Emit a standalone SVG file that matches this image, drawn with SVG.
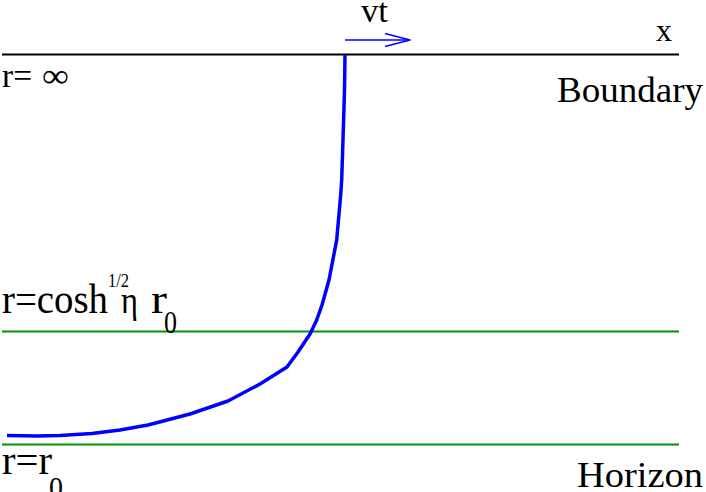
<svg xmlns="http://www.w3.org/2000/svg" width="706" height="492" viewBox="0 0 706 492">
<style>
text{fill:#000}
.g{stroke:#009000;stroke-width:2;fill:none}
.b{stroke:#0000ff;fill:none;stroke-linejoin:round;stroke-linecap:butt}
</style>
<rect width="706" height="492" fill="#fff"/>
<g id="connectors">
<line x1="2" y1="54.5" x2="679" y2="54.5" stroke="#000" stroke-width="2"/>
<line class="g" x1="2" y1="331.5" x2="679" y2="331.5"/>
<line class="g" x1="2" y1="444.5" x2="679" y2="444.5"/>
<polyline class="b" stroke-width="3.5" points="345,55 344.5,90 343.7,117 341.7,180 340.7,195 336.7,240 329,280 322,305 316.7,320 310,334 298,352 287,367 260,384 228,401 190,414 148,425 120,430 92,433.5 60,435.5 37,436 7,435.5"/>
<line class="b" stroke-width="1.6" x1="345" y1="40" x2="409" y2="40"/>
<polyline class="b" stroke-width="1.6" points="385,33.5 410,40 385,46.5"/>
</g>
<g id="labels" font-family="Liberation Serif, Times New Roman, serif">
<text x="361" y="22" font-size="33" textLength="27" lengthAdjust="spacingAndGlyphs">vt</text>
<text x="656" y="41" font-size="32" textLength="16" lengthAdjust="spacingAndGlyphs">x</text>
<text x="557" y="102" font-size="35" textLength="146" lengthAdjust="spacingAndGlyphs">Boundary</text>
<text x="577" y="487" font-size="36" textLength="126" lengthAdjust="spacingAndGlyphs">Horizon</text>
<text x="2" y="87" font-size="33" textLength="30" lengthAdjust="spacingAndGlyphs">r=</text>
<text x="42" y="87" font-size="34" textLength="27" lengthAdjust="spacingAndGlyphs">∞</text>
<text x="2" y="313" font-size="42" textLength="106" lengthAdjust="spacingAndGlyphs">r=cosh</text>
<text x="108" y="287" font-size="19" textLength="21" lengthAdjust="spacingAndGlyphs">1/2</text>
<text x="121" y="313" font-size="38" textLength="17" lengthAdjust="spacingAndGlyphs">η</text>
<text x="151" y="313" font-size="42" textLength="16" lengthAdjust="spacingAndGlyphs">r</text>
<text x="164" y="333" font-size="31" textLength="13" lengthAdjust="spacingAndGlyphs">0</text>
<text x="2" y="474" font-size="40" textLength="50" lengthAdjust="spacingAndGlyphs">r=r</text>
<text x="49" y="497" font-size="30" textLength="14" lengthAdjust="spacingAndGlyphs">0</text>
</g>
</svg>
